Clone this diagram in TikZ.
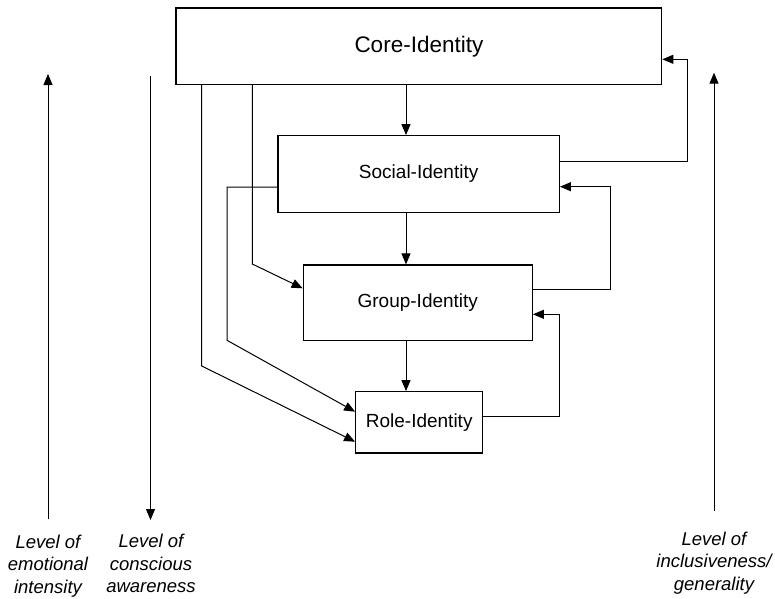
\documentclass[tikz,border=0pt]{standalone}
\usepackage{fontspec}
\setmainfont{Liberation Sans}
\usetikzlibrary{arrows.meta}
\begin{document}
\begin{tikzpicture}[x=1pt,y=-1pt, line width=1.0pt,
  box/.style={draw, rectangle, inner sep=0pt, line width=1.2pt},
  arr/.style={-{Triangle[length=11pt,width=9pt]}},
  lbl/.style={align=center, font=\fontsize{18.5}{22.5}\selectfont\itshape, inner sep=0pt, anchor=north},
  boxfont/.style={font=\fontsize{19}{22}\selectfont}]
\useasboundingbox (0,0) rectangle (775,598);

% boxes
\node[box, minimum width=485.7pt, minimum height=76.5pt, font=\fontsize{22.5}{26}\selectfont] (core) at (418.9,46.25) {Core-Identity};
\node[box, boxfont, minimum width=281.3pt, minimum height=76.6pt] (social) at (418.65,174) {Social-Identity};
\node[box, boxfont, minimum width=229pt, minimum height=75.3pt] (group) at (417.8,302.65) {Group-Identity};
\node[box, boxfont, minimum width=127pt, minimum height=61.3pt] (role) at (419.2,422.35) {Role-Identity};

% helper coordinates
\coordinate (vx) at (406,0);
\coordinate (fbA) at (687.3,59.3);
\coordinate (fbB) at (610,186.7);
\coordinate (fbC) at (559,314.3);
\coordinate (la) at (252.3,0);
\coordinate (lb) at (252.3,264);
\coordinate (lc) at (227,340.3);
\coordinate (ld) at (201.7,0);
\coordinate (le) at (201.7,366);

% downward chain
\draw[arr] (core.south -| vx) -- (social.north -| vx);
\draw[arr] (social.south -| vx) -- (group.north -| vx);
\draw[arr] (group.south -| vx) -- (role.north -| vx);

% feedback loops on the right
\draw[arr] ([yshift=12.3pt]social.east) -| (fbA) -- (core.east |- fbA);
\draw[arr] ([yshift=13.65pt]group.east) -| (fbB) -- (social.east |- fbB);
\draw[arr] ([yshift=5.65pt]role.east) -| (fbC) -- (group.east |- fbC);

% connectors on the left
\draw[arr] (core.south -| la) -- (lb) -- ([yshift=14.35pt]group.west);
\draw[arr] ([yshift=-13pt]social.west) -| (lc) -- ([yshift=10.65pt]role.west);
\draw[arr] (core.south -| ld) -- (le) -- ([yshift=-19.35pt]role.west);

% level arrows and labels
\node[lbl] (emo) at (48,534.5) {Level of\\emotional\\intensity};
\node[lbl] (con) at (151,534) {Level of\\conscious\\awareness};
\node[lbl] (inc) at (714,531.5) {Level of\\inclusiveness/\\generality};
\coordinate (e1) at (48,519);
\coordinate (e2) at (48,74);
\coordinate (c1) at (150.5,76);
\coordinate (c2) at (150.5,520);
\coordinate (i1) at (714,510.7);
\coordinate (i2) at (714,72.7);
\draw[arr] (e1) -- (e2);
\draw[arr] (c1) -- (c2);
\draw[arr] (i1) -- (i2);
\end{tikzpicture}
\end{document}
